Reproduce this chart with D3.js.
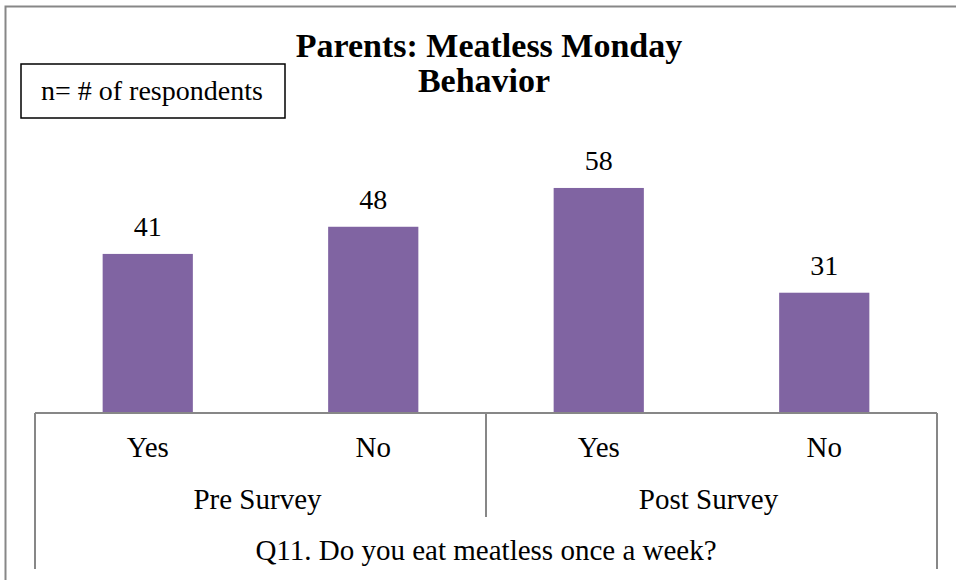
<!DOCTYPE html>
<html>
<head>
<meta charset="utf-8">
<script src="https://cdn.jsdelivr.net/npm/d3@7"></script>
<style>
  html, body { margin: 0; padding: 0; background: #fff; }
  svg { display: block; }
  text { font-family: "Liberation Serif", "Times New Roman", serif; fill: #000; }
</style>
</head>
<body>
<svg id="chart" width="956" height="580"></svg>
<script>
const categories = ["Yes", "No", "Yes", "No"];
const groups = ["Pre Survey", "Pre Survey", "Post Survey", "Post Survey"];
const groupNames = ["Pre Survey", "Post Survey"];
const values = [41, 48, 58, 31];
const title = ["Parents: Meatless Monday", "Behavior"];
const axisTitle = "Q11. Do you eat meatless once a week?";
const noteText = "n= # of respondents";

const svg = d3.select("#chart");
const W = 956, H = 580;
const left = 35, right = 937, base = 413;
const gray = "#878787";

// outer frame
svg.append("rect").attr("x", 5.5).attr("y", 6.5).attr("width", W + 10).attr("height", H + 10)
  .attr("fill", "none").attr("stroke", gray).attr("stroke-width", 2);

const idx = d3.range(values.length);
const x = d3.scaleBand().domain(idx).range([left, right]).paddingInner(0.6).paddingOuter(0.3);
const xg = d3.scaleBand().domain(groupNames).range([left, right]);
const y = d3.scaleLinear().domain([0, 70]).range([base, 141.4]);

// bars
svg.append("g").selectAll("rect").data(idx).join("rect")
  .attr("x", i => x(i)).attr("y", i => y(values[i]))
  .attr("width", x.bandwidth()).attr("height", i => base - y(values[i]))
  .attr("fill", "#8064A2");

// value labels
svg.append("g").selectAll("text").data(idx).join("text")
  .attr("x", i => x(i) + x.bandwidth() / 2).attr("y", i => y(values[i]) - 18)
  .attr("text-anchor", "middle").attr("font-size", 28)
  .text(i => values[i]);

// axis frame lines
const lines = svg.append("g").attr("stroke", gray).attr("stroke-width", 2).attr("fill", "none");
lines.append("line").attr("x1", left).attr("x2", right).attr("y1", base).attr("y2", base);
lines.append("line").attr("x1", left).attr("x2", left).attr("y1", base).attr("y2", 569);
lines.append("line").attr("x1", right).attr("x2", right).attr("y1", base).attr("y2", 569);
groupNames.slice(1).forEach(g => {
  lines.append("line").attr("x1", xg(g)).attr("x2", xg(g)).attr("y1", base).attr("y2", 517);
});

// category labels
svg.append("g").selectAll("text").data(idx).join("text")
  .attr("x", i => x(i) + x.bandwidth() / 2).attr("y", 457)
  .attr("text-anchor", "middle").attr("font-size", 29)
  .text(i => categories[i]);

// group labels
svg.append("g").selectAll("text").data(groupNames).join("text")
  .attr("x", g => xg(g) + xg.bandwidth() / 2 - 3).attr("y", 509)
  .attr("text-anchor", "middle").attr("font-size", 29)
  .text(g => g);

// axis title
svg.append("text").attr("x", (left + right) / 2).attr("y", 560)
  .attr("text-anchor", "middle").attr("font-size", 29).text(axisTitle);

// chart title
svg.append("text").attr("x", 489).attr("y", 57).attr("text-anchor", "middle")
  .attr("font-size", 34).attr("font-weight", "bold").text(title[0]);
svg.append("text").attr("x", 484).attr("y", 92).attr("text-anchor", "middle")
  .attr("font-size", 34).attr("font-weight", "bold").text(title[1]);

// note box
svg.append("rect").attr("x", 21).attr("y", 64).attr("width", 264).attr("height", 54)
  .attr("fill", "#fff").attr("stroke", "#000").attr("stroke-width", 1.5);
svg.append("text").attr("x", 41).attr("y", 100).attr("font-size", 28).text(noteText);
</script>
</body>
</html>
